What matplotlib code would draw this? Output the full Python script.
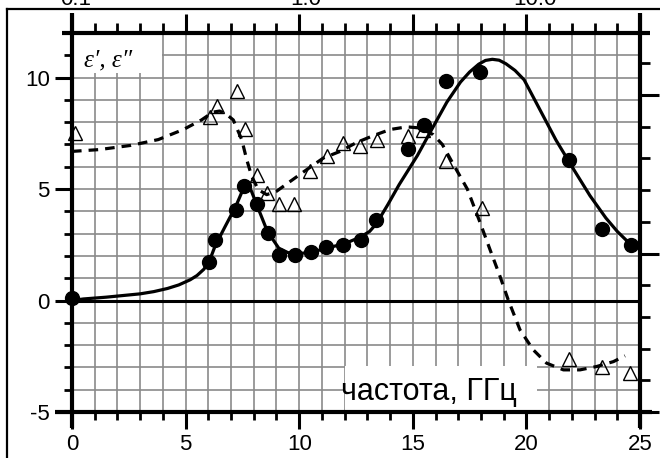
import matplotlib
matplotlib.use("Agg")
import matplotlib.pyplot as plt
from matplotlib.lines import Line2D
from matplotlib.patches import Rectangle
from matplotlib.ticker import MultipleLocator, NullFormatter

plt.rcParams['font.family'] = ['Liberation Sans', 'DejaVu Sans']
plt.rcParams['axes.unicode_minus'] = False

# measured eps'' (filled circles)
f_circ = [0, 6.04, 6.29, 7.22, 7.58, 8.13, 8.61, 9.11, 9.82, 10.52, 11.2,
          11.94, 12.7, 13.37, 14.8, 15.49, 16.47, 17.96, 21.89, 23.31, 24.59]
e2_circ = [0.1, 1.75, 2.7, 4.07, 5.12, 4.34, 3.03, 2.05, 2.05, 2.17, 2.4,
           2.47, 2.7, 3.63, 6.81, 7.89, 9.83, 10.24, 6.29, 3.22, 2.47]

# measured eps' (open triangles)
f_tri = [0.15, 6.07, 6.37, 7.25, 7.61, 8.16, 8.57, 9.11, 9.78, 10.48, 11.21,
         11.94, 12.68, 13.41, 14.8, 15.43, 16.47, 18.03, 21.89, 23.31, 24.56]
e1_tri = [7.52, 8.23, 8.74, 9.39, 7.7, 5.61, 4.82, 4.34, 4.34, 5.79, 6.47,
          7.07, 6.92, 7.18, 7.36, 7.67, 6.24, 4.15, -2.63, -2.99, -3.26]

# fitted eps'' curve (solid)
f_fit2 = [0, 0.5, 1.5, 2.2, 3.0, 3.6, 4.2, 4.7, 5.2, 5.5, 5.8, 6.04, 6.3,
          6.73, 7.22, 7.45, 7.6, 7.75, 7.9, 8.13, 8.6, 9.1, 9.5, 9.8, 10.5,
          11.2, 12.0, 12.7, 13.1, 13.4, 13.9, 14.4, 15.2, 15.9, 16.5, 17.1,
          17.5, 17.9, 18.2, 18.5, 18.8, 19.1, 19.5, 19.9, 20.6, 21.3, 22.1,
          22.8, 23.5, 24.0, 24.6]
e2_fit = [0, 0.07, 0.15, 0.22, 0.3, 0.4, 0.54, 0.7, 0.93, 1.12, 1.4, 1.75,
          2.45, 3.3, 4.25, 4.8, 5.1, 5.12, 4.9, 4.3, 3.1, 2.35, 2.15, 2.1,
          2.15, 2.35, 2.55, 2.85, 3.1, 3.45, 4.3, 5.2, 6.5, 7.8, 8.9, 9.8,
          10.25, 10.6, 10.77, 10.82, 10.78, 10.62, 10.32, 9.9, 8.55, 7.2,
          5.85, 4.7, 3.7, 3.1, 2.5]

# fitted eps' curve (dashed)
f_fit1 = [0, 1.2, 2.6, 3.8, 4.9, 5.7, 6.2, 6.5, 6.8, 7.1, 7.47, 7.69, 7.91,
          8.2, 8.57, 9.0, 9.6, 10.33, 11.06, 11.8, 12.53, 13.27, 14.0, 14.73,
          15.32, 15.9, 16.3, 16.9, 17.4, 17.96, 18.4, 18.84, 19.2, 19.72,
          20.3, 20.89, 21.63, 22.36, 23.09, 23.83, 24.34]
e1_fit = [6.69, 6.77, 6.96, 7.22, 7.67, 8.1, 8.45, 8.5, 8.35, 8.1, 7.22, 6.32,
          5.57, 4.97, 4.75, 4.9, 5.34, 5.87, 6.39, 6.69, 7.09, 7.4, 7.67, 7.79,
          7.74, 7.44, 7.0, 5.9, 5.0, 3.5, 2.28, 1.08, 0.03, -1.32,
          -2.21, -2.81, -3.11, -3.11, -2.96, -2.74, -2.48]

top_labels = ['0.1', '1.0', '10.0']

fig = plt.figure(figsize=(6.6, 4.58), dpi=100)
ax = fig.add_axes([72 / 660, 46 / 458, 568 / 660, 379 / 458])
ax.set_xlim(0, 25)
ax.set_ylim(-5, 12)

# grid
ax.xaxis.set_major_locator(MultipleLocator(5))
ax.xaxis.set_minor_locator(MultipleLocator(1))
ax.yaxis.set_major_locator(MultipleLocator(5))
ax.yaxis.set_minor_locator(MultipleLocator(1))
ax.grid(True, which='both', color='#8a8a8a', lw=1.2, zorder=0)
ax.set_axisbelow(True)

# white boxes behind labels
ax.add_patch(Rectangle((0, 10.2), 3.97, 1.8, fc='white', ec='none', zorder=1))
ax.add_patch(Rectangle((12.03, -5), 8.45, 2.05, fc='white', ec='none', zorder=1))

ax.axhline(0, color='black', lw=2.2, zorder=2)

ax.plot(f_fit2, e2_fit, color='black', lw=2.3, zorder=3)
ax.plot(f_fit1, e1_fit, color='black', lw=2.3, ls=(0, (3.0, 2.2)), zorder=3)
ax.plot(f_circ, e2_circ, 'o', color='black', ms=10, zorder=4, clip_on=False)
ax.plot(f_tri, e1_tri, '^', mfc='none', mec='black', mew=1.0, ms=9.5,
        zorder=4, clip_on=False)

ax.text(0.55, 10.5, "ε′, ε″", fontsize=18, family='Liberation Serif',
        style='italic', zorder=5)
ax.text(15.7, -4.46, 'частота, ГГц', fontsize=22, ha='center',
        va='baseline', zorder=5)

# ticks
for s in ax.spines.values():
    s.set_visible(False)
ax.tick_params(axis='both', which='major', direction='out', length=12,
               width=2.2, labelsize=16, color='black', pad=4)
ax.tick_params(axis='both', which='minor', direction='out', length=6,
               width=2.0, color='black')

top = ax.secondary_xaxis('top')
top.xaxis.set_major_locator(MultipleLocator(5))
top.xaxis.set_minor_locator(MultipleLocator(1))
top.xaxis.set_major_formatter(NullFormatter())
top.tick_params(which='major', direction='out', length=14, width=2.2)
top.tick_params(which='minor', direction='out', length=7, width=2.0)
top.spines['top'].set_visible(False)

right = ax.twinx()
right.set_ylim(0, 11.96)
right.yaxis.set_major_locator(MultipleLocator(5))
right.yaxis.set_minor_locator(MultipleLocator(1))
right.yaxis.set_major_formatter(NullFormatter())
right.tick_params(which='major', direction='out', length=14, width=2.2)
right.tick_params(which='minor', direction='out', length=7, width=2.0)
for s in right.spines.values():
    s.set_visible(False)

# spines, drawn a bit past the corners
w, h = 568.0, 379.0
spine_kw = dict(color='black', lw=3, transform=ax.transAxes, clip_on=False,
                zorder=6, solid_capstyle='butt')
ax.add_line(Line2D([-17 / w, 1 + 12 / w], [0, 0], **spine_kw))
ax.add_line(Line2D([-10 / w, 1 + 10 / w], [1, 1], **spine_kw))
ax.add_line(Line2D([0, 0], [-16 / h, 1 + 20 / h], **spine_kw))
ax.add_line(Line2D([1, 1], [-16 / h, 1 + 20 / h], **spine_kw))

# frame of the page and cut-off labels of the panel above
fig.add_artist(Line2D([7 / 660, 7 / 660], [0, 1 - 9 / 458], color='black',
                      lw=1.6, transform=fig.transFigure))
fig.add_artist(Line2D([7 / 660, 1], [1 - 9 / 458, 1 - 9 / 458], color='black',
                      lw=1.6, transform=fig.transFigure))
for xp, lab in zip([76, 306, 535], top_labels):
    fig.text(xp / 660, 1 - 5 / 458, lab, fontsize=16, ha='center',
             va='baseline')

fig.savefig('out.png', dpi=100)
